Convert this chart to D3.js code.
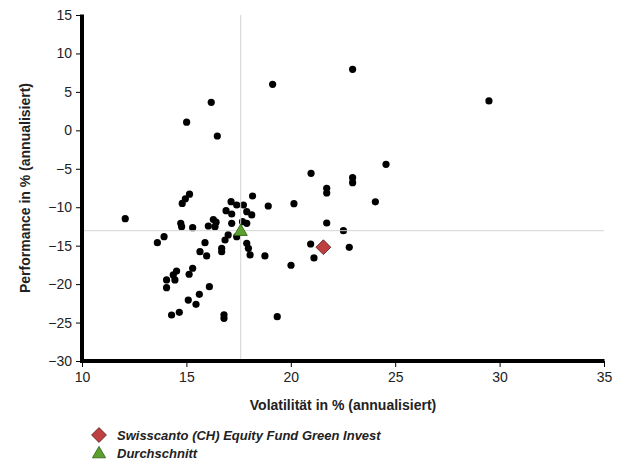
<!DOCTYPE html>
<meta charset="utf-8">
<script src="https://d3js.org/d3.v7.min.js"></script>
<style>
  body { margin: 0; background: #fff; }
  text { font-family: "Liberation Sans", Arial, sans-serif; }
</style>
<div id="chart"></div>
<script>

// fund universe: volatility and performance (annualised, %)
const volatility = [12.07, 13.61, 13.93, 14.05, 14.05, 14.37, 14.45, 14.53, 14.29, 14.66,
  14.73, 14.77, 14.8, 14.95, 15.15, 15.01, 15.3, 15.3, 15.13, 15.09,
  15.46, 15.62, 15.65, 15.89, 15.97, 16.1, 16.05, 16.19, 16.48, 16.29,
  16.42, 16.37, 16.8, 16.8, 16.69, 16.69, 16.85, 17.0, 17.41, 16.9,
  17.14, 17.41, 17.73, 17.17, 17.17, 17.69, 17.89, 17.89, 18.13, 18.17,
  17.89, 17.97, 18.05, 18.76, 18.92, 19.13, 19.35, 20.01, 20.15, 20.95,
  20.97, 21.11, 21.72, 21.72, 21.72, 22.52, 22.8, 22.96, 22.96, 22.96,
  24.05, 24.56, 29.49]
const performance = [-11.49, -14.61, -13.83, -19.46, -20.46, -18.8, -19.46, -18.3, -24.02, -23.67,
  -12.09, -12.53, -9.5, -8.9, -8.3, 1.06, -12.66, -17.94, -18.72, -22.07,
  -22.63, -21.33, -15.78, -14.61, -16.34, -20.33, -12.44, 3.64, -0.74, -11.6,
  -11.95, -12.53, -24.0, -24.45, -15.34, -15.78, -14.26, -13.6, -13.83, -10.45,
  -9.28, -9.71, -9.71, -10.88, -12.09, -11.88, -12.09, -10.58, -11.0, -8.54,
  -14.7, -15.34, -16.21, -16.34, -9.84, 5.99, -24.24, -17.55, -9.54, -14.78,
  -5.59, -16.6, -7.54, -8.15, -12.05, -13.05, -15.21, -6.16, -6.81, 7.94,
  -9.3, -4.42, 3.82]

// highlighted fund and the average
const fundName = "Swisscanto (CH) Equity Fund Green Invest"
const fund = [21.56, -15.2]
const avgName = "Durchschnitt"
const avg = [17.6, -13.05]

const xTicks = [10, 15, 20, 25, 30, 35]
const yTicks = [-30, -25, -20, -15, -10, -5, 0, 5, 10, 15]

const width = 628, height = 464

const svg = d3.select("#chart")
  .append("svg")
    .attr("width", width)
    .attr("height", height)

const x = d3.scaleLinear().domain([10, 35]).range([82, 604])
const y = d3.scaleLinear().domain([-30, 15]).range([361, 15])

const points = volatility.map((v, i) => [v, performance[i]])

// dots
svg.append("g")
  .selectAll("circle")
  .data(points)
  .join("circle")
    .attr("cx", d => x(d[0]))
    .attr("cy", d => y(d[1]))
    .attr("r", 3.6)
    .attr("fill", "#000")

// average crosshair (drawn over the dots)
svg.append("line")
  .attr("x1", x(avg[0])).attr("x2", x(avg[0]))
  .attr("y1", y(15)).attr("y2", y(-30))
  .attr("stroke", "#d4d4d4").attr("stroke-width", 1)
svg.append("line")
  .attr("x1", x(10)).attr("x2", x(35))
  .attr("y1", y(avg[1])).attr("y2", y(avg[1]))
  .attr("stroke", "#d4d4d4").attr("stroke-width", 1)

// axes
const xAxis = svg.append("g")
  .attr("transform", `translate(0,${y(-30)})`)
  .call(d3.axisBottom(x).tickValues(xTicks).tickSize(6).tickSizeOuter(0).tickPadding(5))
const yAxis = svg.append("g")
  .attr("transform", `translate(${x(10)},0)`)
  .call(d3.axisLeft(y).tickValues(yTicks).tickSize(6).tickSizeOuter(0).tickPadding(4)
    .tickFormat(d => d < 0 ? "\u2212" + Math.abs(d) : d))

for (const g of [xAxis, yAxis]) {
  g.select(".domain").remove()
  g.selectAll(".tick line").attr("stroke", "#000").attr("stroke-width", 1)
  g.selectAll(".tick text")
    .attr("fill", "#222")
    .style("font-family", "'Liberation Sans', Arial, sans-serif")
    .style("font-size", "14px")
}

// heavy axis lines
svg.append("line")
  .attr("x1", x(10) - 2).attr("x2", x(35) + 0.5)
  .attr("y1", y(-30)).attr("y2", y(-30))
  .attr("stroke", "#000").attr("stroke-width", 4)
svg.append("line")
  .attr("x1", x(10)).attr("x2", x(10))
  .attr("y1", y(15) - 0.5).attr("y2", y(-30))
  .attr("stroke", "#000").attr("stroke-width", 4)

// fund marker and average marker
const diamond = d3.symbol().type(d3.symbolSquare).size(110)
const triangle = d3.symbol().type(d3.symbolTriangle).size(75)

svg.append("path")
  .attr("d", diamond)
  .attr("transform", `translate(${x(fund[0])},${y(fund[1])}) rotate(45)`)
  .attr("fill", "#bf4040").attr("stroke", "#5a1c1c").attr("stroke-width", 0.8)
svg.append("path")
  .attr("d", triangle)
  .attr("transform", `translate(${x(avg[0])},${y(avg[1]) + 1})`)
  .attr("fill", "#5aa02c").attr("stroke", "#2d5a16").attr("stroke-width", 0.8)

// axis titles
svg.append("text")
  .attr("x", (x(10) + x(35)) / 2).attr("y", 410)
  .attr("text-anchor", "middle")
  .style("font-size", "14px").style("font-weight", "bold")
  .attr("fill", "#222")
  .text("Volatilität in % (annualisiert)")
svg.append("text")
  .attr("transform", `translate(30,${(y(15) + y(-30)) / 2}) rotate(-90)`)
  .attr("text-anchor", "middle")
  .style("font-size", "14px").style("font-weight", "bold")
  .attr("fill", "#222")
  .text("Performance in % (annualisiert)")

// legend
const legend = [
  { name: fundName, sym: diamond, rot: 45, fill: "#bf4040", stroke: "#5a1c1c" },
  { name: avgName, sym: triangle, rot: 0, fill: "#5aa02c", stroke: "#2d5a16" }
]
const lg = svg.append("g")
lg.selectAll("path")
  .data(legend)
  .join("path")
    .attr("d", d => d.sym())
    .attr("transform", (d, i) => `translate(99,${435 + i * 18 + (i ? 1 : 0)}) rotate(${d.rot})`)
    .attr("fill", d => d.fill)
    .attr("stroke", d => d.stroke)
    .attr("stroke-width", 0.8)
lg.selectAll("text")
  .data(legend)
  .join("text")
    .attr("x", 117)
    .attr("y", (d, i) => 440 + i * 18)
    .style("font-size", "13px")
    .style("font-weight", "bold")
    .style("font-style", "italic")
    .attr("fill", "#222")
    .text(d => d.name)
</script>
